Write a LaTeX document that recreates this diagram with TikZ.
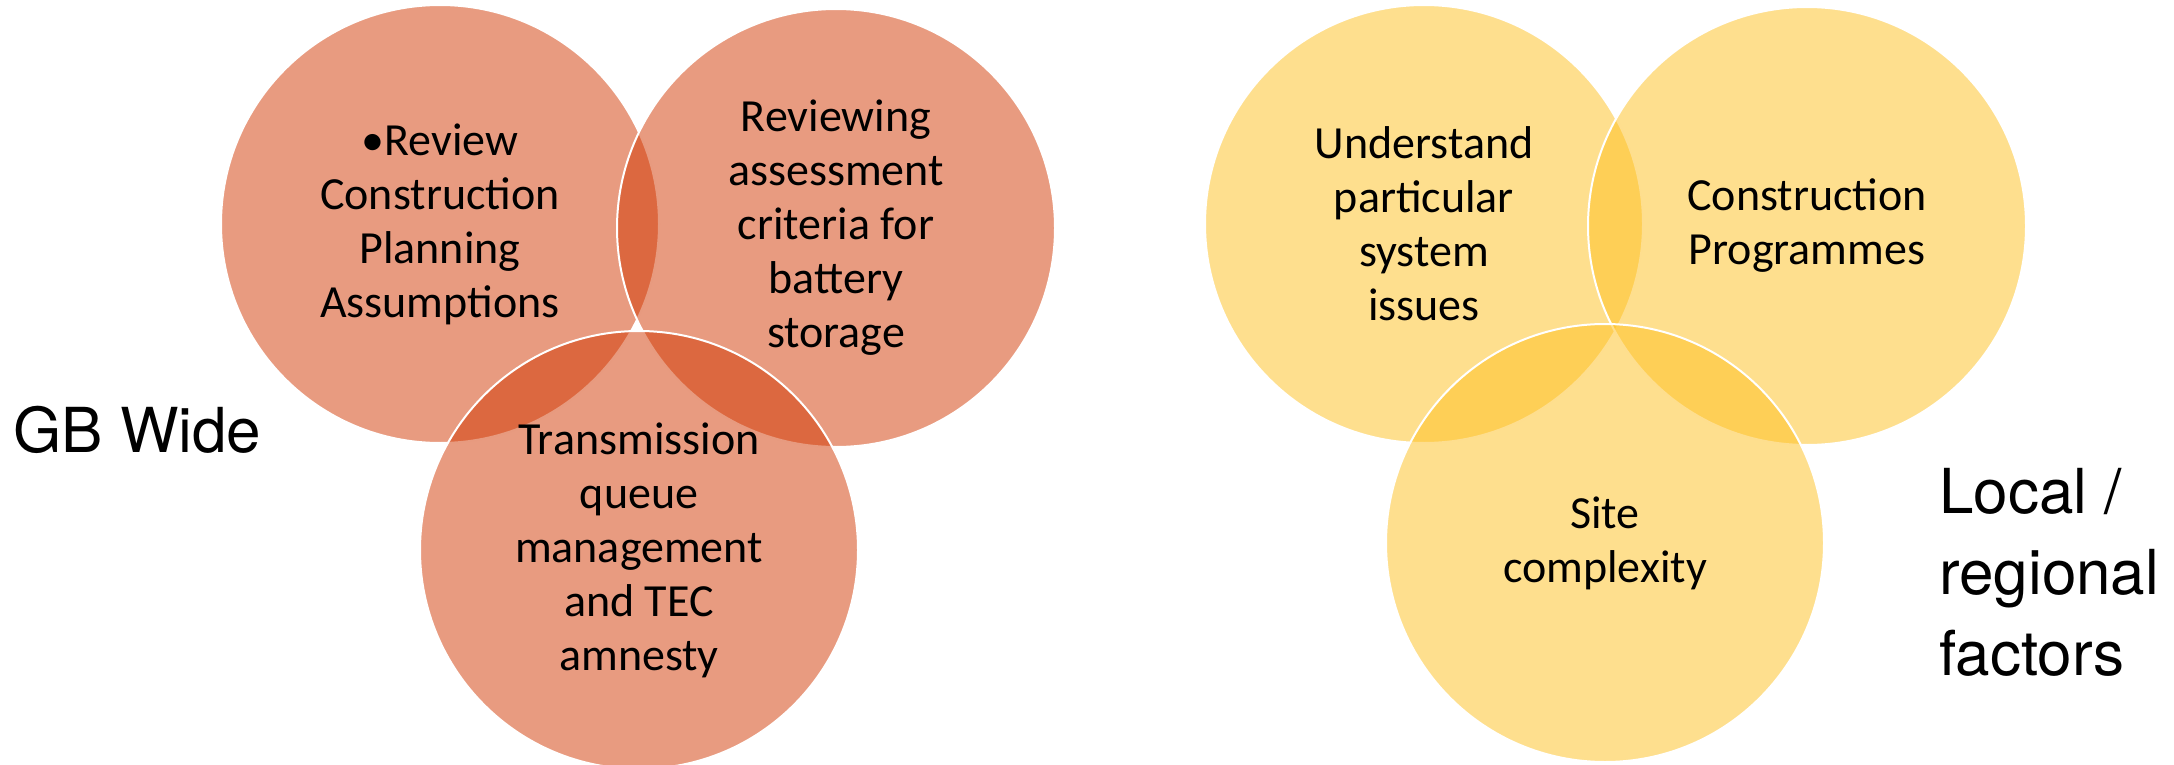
\documentclass[tikz,border=0pt]{standalone}
\usepackage{fontspec}
\setmainfont{Carlito}
\newfontfamily\sidefont{TeX Gyre Heros}
\usepackage{tikz}
\usetikzlibrary{positioning}

\definecolor{gbred}{RGB}{209,55,1}
\definecolor{localgold}{RGB}{254,191,30}

\begin{document}
\begin{tikzpicture}[
    x=1pt, y=-1pt,
    venn/.style={circle, draw=white, line width=2pt, fill opacity=0.5, text opacity=1,
        minimum size=438pt, inner sep=0pt, align=center,
        font=\fontsize{46}{54}\selectfont},
    gbset/.style={venn, fill=gbred},
    localset/.style={venn, fill=localgold},
    sidelabel/.style={inner sep=0pt, align=left, font=\sidefont\fontsize{62}{81}\selectfont}
]
    \useasboundingbox (0,0) rectangle (2174,765);

    % GB wide circles
    \node[gbset] (review) at (440,224) {•Review\\Construction\\Planning\\Assumptions};
    \node[gbset] (battery) at (836,228) {Reviewing\\assessment\\criteria for\\battery\\storage};
    \node[gbset] (queue) at (639,550) {Transmission\\queue\\management\\and TEC\\amnesty};

    % Local / regional circles
    \node[localset] (system) at (1424,224) {Understand\\particular\\system\\issues};
    \node[localset] (programmes) at (1807,226) {Construction\\Programmes};
    \node[localset] (site) at (1605,543) {Site\\complexity};

    % Side labels
    \node[sidelabel, anchor=base west] (gbwide) at (13,452) {GB Wide};
    \node[sidelabel, anchor=west] (local) at (1939,572) {Local /\\regional\\factors};
\end{tikzpicture}
\end{document}
